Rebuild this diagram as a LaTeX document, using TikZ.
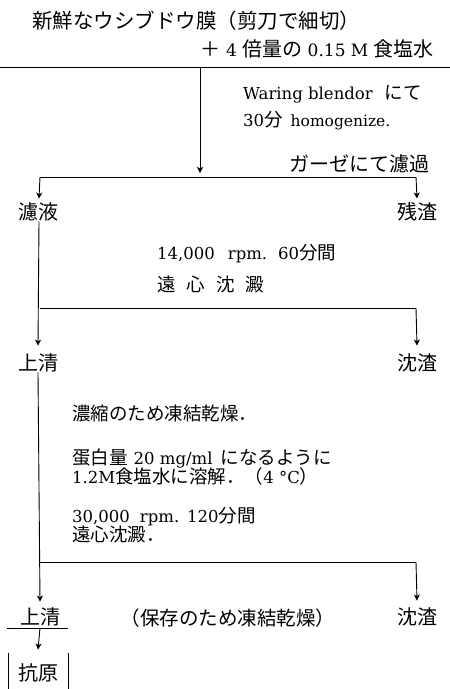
\documentclass[tikz,border=0pt]{standalone}
\usepackage{fontspec}
\setmainfont{DejaVu Serif}
\newfontfamily\cjk{Noto Sans CJK JP}
\usetikzlibrary{arrows.meta}
\newcommand{\J}[1]{{\cjk #1}}
\newcommand{\JJ}[1]{{\cjk\fontsize{18.5}{20}\selectfont #1}}
\newcommand{\JL}[1]{{\cjk\fontsize{20}{22}\selectfont #1}}
\tikzset{
  txt/.style={inner sep=0pt, text height=12pt, text depth=3pt, font=\fontsize{16.5}{18}\selectfont},
  ttl/.style={inner sep=0pt, font=\fontsize{17}{19}\selectfont},
  lbl/.style={inner sep=0pt, font=\fontsize{16.5}{18}\selectfont},
  rule/.style={line width=1pt},
  conn/.style={line width=0.9pt},
  arr/.style={line width=0.9pt, -{Stealth[length=6pt,width=6pt,inset=1.5pt]}},
}
\begin{document}
\begin{tikzpicture}[x=1pt,y=-1pt]
\useasboundingbox (0,0) rectangle (450,689);
% title
\node[ttl,anchor=west] (t1) at (32,21) {\J{\fontsize{20.5}{22}\selectfont 新鮮なウシブドウ膜（剪刀で細切）}};
\node[ttl,anchor=east] (t2) at (434,49) {\JL{＋} 4 \JL{倍量の} 0.15 M \JL{食塩水}};
\coordinate (hrL) at (0,67);
\coordinate (hrR) at (450,67);
\draw[rule] (hrL) -- (hrR);
% step 1
\coordinate (s0) at (200,67);
\coordinate (s1) at (200,177);
\draw[arr] (s0) -- ([yshift=4pt]s1);
\node[txt,anchor=west] (w1) at (243,95) {Waring blendor\hspace{12pt}\JJ{にて}};
\node[txt,anchor=west] (w2) at (243,122) {30\JJ{分}\hspace{8pt}{\fontsize{15.5}{17}\selectfont homogenize.}};
\node[lbl,anchor=east] (gz) at (430,164) {\JL{ガーゼにて濾過}};
% branch 1
\coordinate (b1L) at (40,177);
\coordinate (b1R) at (416,177);
\draw[rule] (b1L) -- (b1R);
\node[lbl] (filt) at (39,212) {\JL{濾液}};
\node[lbl] (res) at (417,212) {\JL{残渣}};
\draw[arr] (b1L) -- ([yshift=4pt]filt.north);
\draw[arr] (b1R) -- ([yshift=4pt]res.north);
\node[txt,anchor=west] (c1) at (157,255) {14,000\hspace{13pt}rpm.\hspace{11pt}60\JJ{分間}};
\node[txt,anchor=west] (c2) at (157,287) {\JJ{遠\hspace{11pt}心\hspace{11pt}沈\hspace{11pt}澱}};
% branch 2
\coordinate (b2L) at (40,308);
\coordinate (b2R) at (416,308);
\node[lbl] (sup1) at (38,363) {\JL{上清}};
\node[lbl] (sed1) at (417,363) {\JL{沈渣}};
\draw[conn] (b2L) -- (b2R);
\draw[arr] (filt.south) -- ([yshift=8pt]sup1.north);
\draw[arr] (b2R) -- ([yshift=8pt]sed1.north);
\node[txt,anchor=west] (d1) at (72,416) {\JJ{濃縮のため凍結乾燥．}};
\node[txt,anchor=west] (d2) at (72,460) {\JJ{蛋白量}\hspace{6pt}20 mg/ml\hspace{8pt}\JJ{になるように}};
\node[txt,anchor=west] (d3) at (72,479) {1.2M\JJ{食塩水に溶解．（}4 °C\JJ{）}};
\node[txt,anchor=west] (d4) at (72,518) {30,000\hspace{10pt}rpm.\hspace{8pt}120\JJ{分間}};
\node[txt,anchor=west] (d5) at (72,537) {\JJ{遠心沈澱．}};
% branch 3
\coordinate (b3L) at (40,562);
\coordinate (b3R) at (416,562);
\node[lbl] (sup2) at (40,617) {\JL{上清}};
\node[lbl] (sed2) at (417,617) {\JL{沈渣}};
\node[lbl] (keep) at (228,618) {\J{\fontsize{19.5}{21}\selectfont （保存のため凍結乾燥）}};
\draw[conn] (b3L) -- (b3R);
\draw[arr] (sup1.south) -- ([yshift=6pt]sup2.north);
\draw[arr] (b3R) -- ([yshift=7pt]sed2.north);
% antigen
\coordinate (uL) at (7,628);
\coordinate (uR) at (68,628);
\coordinate (uM) at (40,628);
\draw[conn] (uL) -- (uR);
\node[lbl] (ag) at (38,673) {\JL{抗原}};
\draw[arr] (uM) -- ([yshift=14pt]ag.north);
\coordinate (bxL1) at (8,653);
\coordinate (bxL2) at (8,689);
\coordinate (bxR1) at (68,653);
\coordinate (bxR2) at (68,689);
\draw[conn] (bxL1) -- (bxL2);
\draw[conn] (bxR1) -- (bxR2);
\end{tikzpicture}
\end{document}
